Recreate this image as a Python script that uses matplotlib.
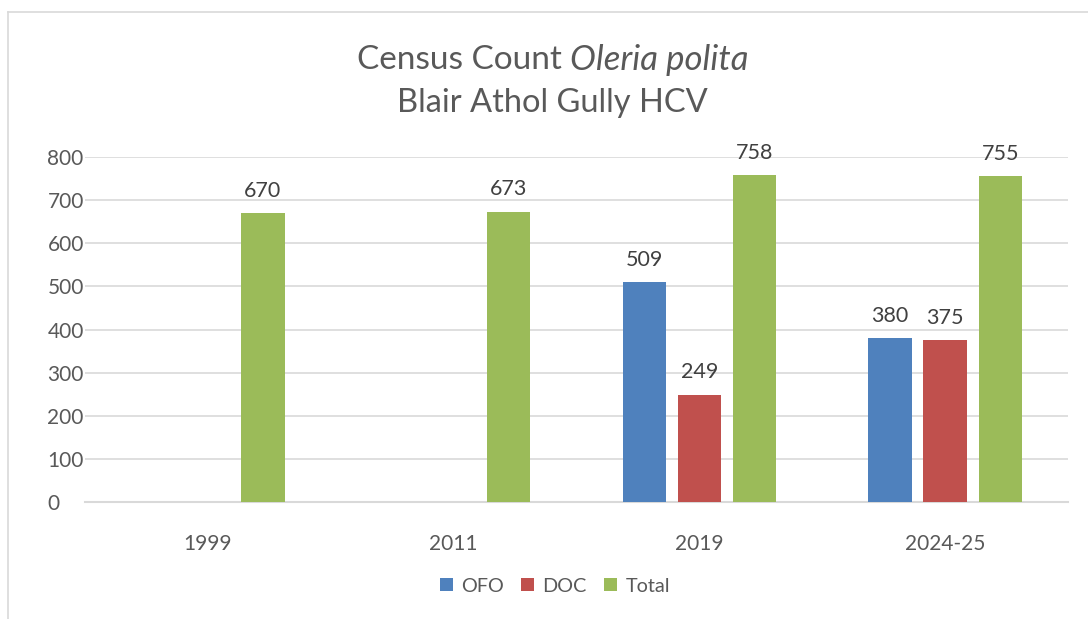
import numpy as np
import matplotlib.pyplot as plt
from matplotlib.lines import Line2D

plt.rcParams['font.family'] = ['Lato', 'DejaVu Sans']

years = ['1999', '2011', '2019', '2024-25']
ofo = [np.nan, np.nan, 509, 380]
doc = [np.nan, np.nan, 249, 375]
total = [670, 673, 758, 755]
series = ['OFO', 'DOC', 'Total']
colors = ['#4F81BD', '#C0504D', '#9BBB59']

txt = '#595959'
fig = plt.figure(figsize=(10.88, 6.19), dpi=100)
ax = fig.add_axes([85/1088, 117/619, 983/1088, 345/619])

x = np.arange(len(years))
w = 0.176
step = 0.224
for i, (name, vals, c) in enumerate(zip(series, [ofo, doc, total], colors)):
    pos = x + (i - 1) * step
    h = np.nan_to_num(np.array(vals, dtype=float))
    bars = ax.bar(pos, h, w, color=c, label=name, zorder=3)
    labels = ['' if np.isnan(v) else f'{int(v)}' for v in vals]
    ax.bar_label(bars, labels=labels, padding=9, fontsize=15.5, color='#404040')

ax.set_xlim(-0.5, len(years) - 0.5)
ax.set_ylim(0, 800)
ax.set_yticks(range(0, 801, 100))
ax.set_xticks(x)
ax.set_xticklabels(years)
ax.tick_params(axis='both', length=0, labelsize=15, labelcolor=txt)
ax.tick_params(axis='x', pad=23)
ax.tick_params(axis='y', pad=27)
for lbl in ax.get_yticklabels():
    lbl.set_horizontalalignment('left')
ax.grid(axis='y', color='#D9D9D9', linewidth=1.2, zorder=0)
for s in ['top', 'right', 'left']:
    ax.spines[s].set_visible(False)
ax.spines['bottom'].set_color('#D9D9D9')
ax.spines['bottom'].set_linewidth(1.5)

# title line 1: plain + italic pieces, centred together
cx = 0.508
y1 = 1 - 60/619
t_a = fig.text(0, y1, 'Census Count ', ha='left', va='center', fontsize=24, color=txt)
t_b = fig.text(0, y1, 'Oleria polita', ha='left', va='center', fontsize=25, color=txt,
               style='italic')
r = fig.canvas.get_renderer()
wa = t_a.get_window_extent(r).width / fig.bbox.width
wb = t_b.get_window_extent(r).width / fig.bbox.width
x0 = cx - (wa + wb) / 2
t_a.set_x(x0)
t_b.set_x(x0 + wa)
fig.text(cx, 1 - 103/619, 'Blair Athol Gully HCV', ha='center', va='center',
         fontsize=23.5, color=txt)

fig.legend(loc='center', bbox_to_anchor=(0.51, 1 - 586/619), ncol=3, frameon=False,
           fontsize=14.3, labelcolor=txt, handlelength=0.65, handleheight=0.65,
           handletextpad=0.4, columnspacing=0.9)

fig.add_artist(Line2D([8/1088, 8/1088], [0, 1 - 12/619], transform=fig.transFigure,
                      color='#D9D9D9', linewidth=1.2))
fig.add_artist(Line2D([8/1088, 1], [1 - 12/619, 1 - 12/619], transform=fig.transFigure,
                      color='#D9D9D9', linewidth=1.2))

fig.savefig('out.png', dpi=100)
